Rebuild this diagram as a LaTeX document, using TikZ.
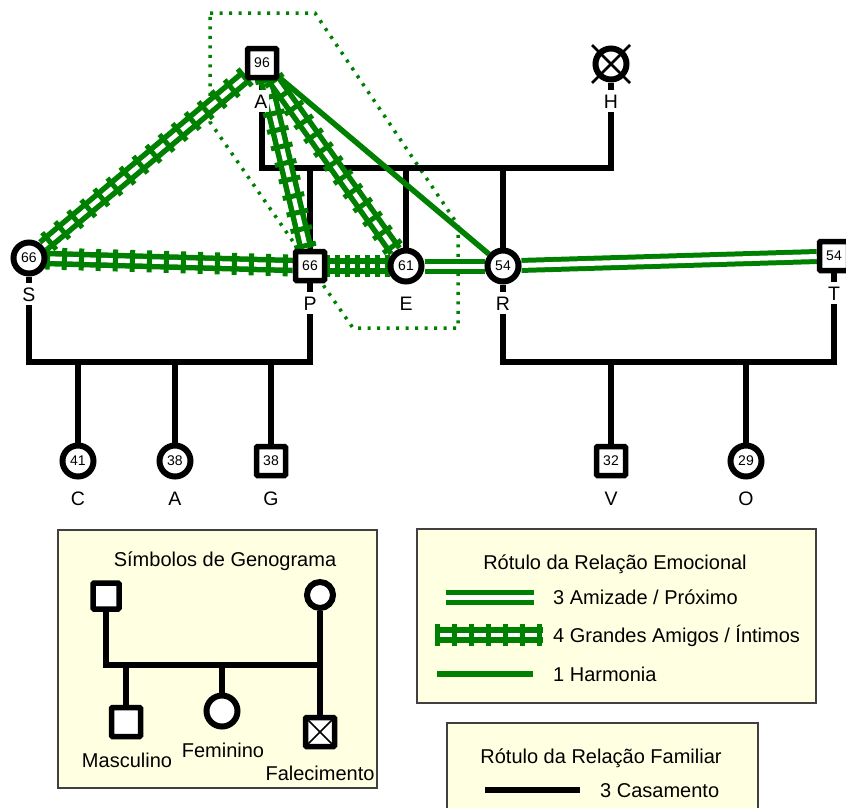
\documentclass[tikz,border=0pt]{standalone}
\usepackage{fontspec}
\setmainfont{Liberation Sans}
\usetikzlibrary{positioning,calc,decorations.markings}
\definecolor{relgreen}{RGB}{0,128,0}
\definecolor{legfill}{RGB}{255,255,225}
\pgfdeclarelayer{background}
\pgfsetlayers{background,main}
\newcommand{\agefont}{\fontsize{14}{16}\selectfont}
\newcommand{\namefont}{\fontsize{19.5}{22}\selectfont}
\newcommand{\legfont}{\fontsize{20}{23}\selectfont}
\tikzset{
  male/.style={draw, rectangle, rounded corners=1pt, line width=5.5pt, fill=white, minimum size=29pt, inner sep=0pt, font=\agefont},
  female/.style={draw, circle, line width=6pt, fill=white, minimum size=31pt, inner sep=0pt, font=\agefont},
  dead/.style={path picture={\draw[line width=1.5pt] (path picture bounding box.north west) -- (path picture bounding box.south east) (path picture bounding box.north east) -- (path picture bounding box.south west);}},
  who/.style={fill=white, inner xsep=1pt, inner ysep=4pt, text height=14pt, text depth=0pt, font=\namefont},
  legtext/.style={inner sep=0pt, text height=14pt, text depth=0pt, font=\legfont},
  famline/.style={draw=black, line width=5.5pt},
  harmony/.style={draw=relgreen, line width=5.5pt},
  friends/.style={draw=relgreen, line width=5pt, double=white, double distance=5pt},
  intimate/.style={draw=none,
    preaction={draw=relgreen, line width=5.5pt, double=white, double distance=4.5pt},
    postaction={decorate, decoration={markings, mark=between positions 0 and 1 step #1 with {\draw[relgreen, line width=5pt] (0pt,-11pt) -- (0pt,11pt);}}}},
  intimate/.default=17pt,
  cluster/.style={draw=relgreen, line width=3.5pt, dash pattern=on 3pt off 6.5pt},
  legendbox/.style={draw=black!75, line width=1.5pt, fill=legfill}
}

\begin{document}
\begin{tikzpicture}[x=1pt, y=-1pt]
  \useasboundingbox (0,0) rectangle (846,807);
  % legend boxes
  \begin{pgfonlayer}{background}
    \draw[legendbox] (58,530) rectangle (377,788);
    \draw[legendbox] (417,529) rectangle (816,703);
    \draw[legendbox] (447,723) rectangle (758,815);
  \end{pgfonlayer}

  % persons set with absolute coordinates
  \node[male] (a) at (262,63) {96};
  \node[female] (h) at (611,64) {};
  \node[female] (s) at (29,258) {66};
  \node[male] (p) at (310,266) {66};
  \node[female] (e) at (406,266) {61};
  \node[female] (r) at (503,266) {54};
  \node[male] (t) at (834,256) {54};
  \node[female] (c) at (78,461) {41};
  \node[female] (a2) at (175,461) {38};
  \node[male] (g) at (271,461) {38};
  \node[male] (v) at (611,461) {32};
  \node[female] (o) at (746,461) {29};
  \draw[line width=2.5pt] ([shift={(-19,-19)}]h.center) -- ([shift={(19,19)}]h.center);
  \draw[line width=2.5pt] ([shift={(-19,19)}]h.center) -- ([shift={(19,-19)}]h.center);

  % names
  \node[who] (la) at (261,101) {A};
  \node[who] (lh) at (611,101) {H};
  \node[who] (ls) at (29,294) {S};
  \node[who] (lp) at (310,303) {P};
  \node[who] (le) at (406,303) {E};
  \node[who] (lr) at (503,303) {R};
  \node[who] (lt) at (834,293) {T};
  \node[who] (lc) at (78,498) {C};
  \node[who] (la2) at (175,498) {A};
  \node[who] (lg) at (271,498) {G};
  \node[who] (lv) at (611,498) {V};
  \node[who] (lo) at (746,498) {O};

  % symbol legend
  \node[legtext] (ksym) at (225,559) {Símbolos de Genograma};
  \node[male, minimum size=26pt] (km) at (106,596) {};
  \node[female, minimum size=26pt] (kf) at (320,595) {};
  \node[male] (kson) at (126,722) {};
  \node[female] (kdau) at (222,711) {};
  \node[male, dead] (kdead) at (320,732) {};
  \node[legtext] (lkson) at (127,760) {Masculino};
  \node[legtext] (lkdau) at (223,750) {Feminino};
  \node[legtext] (lkdead) at (320,773) {Falecimento};

  % relation legends
  \node[legtext] (kemo) at (615,562) {Rótulo da Relação Emocional};
  \node[legtext, anchor=west] (k3) at (553,597) {3 Amizade / Próximo};
  \node[legtext, anchor=west] (k4) at (553,635) {4 Grandes Amigos / Íntimos};
  \node[legtext, anchor=west] (k1) at (553,674) {1 Harmonia};
  \node[legtext] (kfam) at (601,756) {Rótulo da Relação Familiar};
  \node[legtext, anchor=west] (kcas) at (600,790) {3 Casamento};
  \coordinate (k3a) at (446,597);
  \coordinate (k3b) at (534,597);
  \coordinate (k4a) at (437,635);
  \coordinate (k4b) at (543,635);
  \coordinate (k1a) at (437,674);
  \coordinate (k1b) at (533,674);
  \coordinate (kca) at (485,790);
  \coordinate (kcb) at (580,790);

  \begin{pgfonlayer}{background}
    \draw[cluster] (210,13) -- (315,13) -- (458,225) -- (458,328) -- (353,328) -- (210,122) -- cycle;
    % family lines
    \coordinate (ah) at (436,168);
    \coordinate (sp) at (170,362);
    \coordinate (rt) at (670,362);
    \coordinate (kbar) at (213,665);
    \draw[famline] (a) |- (ah) -| (h);
    \foreach \k in {p,e,r} \draw[famline] (\k) -- (\k |- ah);
    \draw[famline] (s) |- (sp) -| (p);
    \foreach \k in {c,a2,g} \draw[famline] (\k) -- (\k |- sp);
    \draw[famline] (r) |- (rt) -| (t);
    \foreach \k in {v,o} \draw[famline] (\k) -- (\k |- rt);
    \draw[famline] (km) |- (kbar) -| (kf);
    \foreach \k in {kson,kdau,kdead} \draw[famline] (\k) -- (\k |- kbar);
    % emotional lines
    \draw[intimate] (a) -- (s);
    \draw[intimate] (a) -- (p);
    \draw[intimate] (a) -- (e);
    \draw[harmony] (a) -- (r);
    \draw[intimate] (s) -- (p);
    \draw[intimate=10pt] (p) -- (e);
    \draw[friends] (e) -- (r);
    \draw[friends] (r) -- (t);
    % legend samples
    \draw[friends] (k3a) -- (k3b);
    \draw[intimate] (k4a) -- (k4b);
    \draw[harmony] (k1a) -- (k1b);
    \draw[famline, line width=6.5pt] (kca) -- (kcb);
  \end{pgfonlayer}
\end{tikzpicture}
\end{document}
